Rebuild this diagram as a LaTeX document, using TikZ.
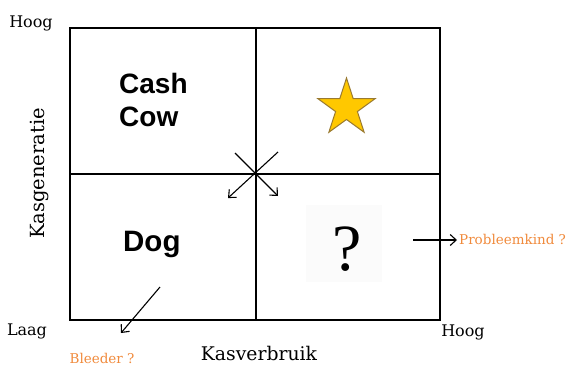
\documentclass[tikz,border=0pt]{standalone}
\usepackage{fontspec}
\setmainfont{DejaVu Serif}
\newfontfamily\boldsans{Liberation Sans}
\newfontfamily\qfont{Liberation Serif}
\usetikzlibrary{arrows.meta,shapes.geometric}
\definecolor{lbl}{HTML}{F08A3C}
\definecolor{stargold}{HTML}{FFC800}
\definecolor{staredge}{HTML}{9A7A30}
\tikzset{
  grid/.style={draw=black, line width=1.3pt},
  arr/.style={draw=black, line width=1.1pt, -{Straight Barb[length=6pt,width=11pt]}},
  axis/.style={font=\fontsize{16}{18}\selectfont, inner sep=0pt, anchor=base},
  orange/.style={text=lbl, font=\fontsize{13.5}{15}\selectfont, inner sep=0pt, anchor=base},
  quad/.style={font=\boldsans\bfseries\fontsize{28}{33}\selectfont, align=left, inner sep=0pt, anchor=base west}
}
\begin{document}
\begin{tikzpicture}[x=1pt,y=-1pt]
\useasboundingbox (0,0) rectangle (568,365);
% grid
\coordinate (tl) at (70,28);
\coordinate (br) at (440,320);
\draw[grid] (tl) rectangle (br);
\coordinate (vt) at (256,28);
\coordinate (vb) at (256,320);
\coordinate (hl) at (70,174);
\coordinate (hr) at (440,174);
\draw[grid] (vt) -- (vb);
\draw[grid] (hl) -- (hr);
% cross arrows
\coordinate (a1s) at (235,153);
\coordinate (a1e) at (278,196);
\coordinate (a2s) at (278,152);
\coordinate (a2e) at (228,198);
\draw[arr] (a1s) -- (a1e);
\draw[arr] (a2s) -- (a2e);
% quadrant labels
\node[quad] (cash) at (119,93) {Cash};
\node[quad] (cow) at (119,126) {Cow};
\node[quad, font=\boldsans\bfseries\fontsize{29.5}{30}\selectfont] (dog) at (123,251) {Dog};
% star
\node[star, star points=5, star point ratio=2.618, minimum size=60pt, inner sep=0pt, fill=stargold, draw=staredge, line width=1pt] (star) at (346.5,108) {};
% question mark
\fill[black!1.5] (306,205) rectangle (382,282);
\node[font=\qfont\fontsize{66}{66}\selectfont, inner sep=0pt, anchor=base] (q) at (347.5,270) {?};
% axis labels
\node[axis] (hoog1) at (31,27) {Hoog};
\node[axis] (laag) at (27,335) {Laag};
\node[axis] (hoog2) at (463,336) {Hoog};
\node[axis, font=\fontsize{18.8}{20}\selectfont] (kasv) at (259,360) {Kasverbruik};
\node[axis, font=\fontsize{19.5}{21}\selectfont, rotate=90] (kasg) at (45,173.5) {Kasgeneratie};
% orange labels
\node[orange] (bleeder) at (102,363) {Bleeder ?};
\node[orange, anchor=base west] (prob) at (459,244) {Probleemkind ?};
\coordinate (b1) at (160,287);
\coordinate (b2) at (121,333);
\draw[arr] (b1) -- (b2);
\coordinate (p1) at (413,240);
\coordinate (p2) at (457,240);
\draw[arr] (p1) -- (p2);
\end{tikzpicture}
\end{document}
